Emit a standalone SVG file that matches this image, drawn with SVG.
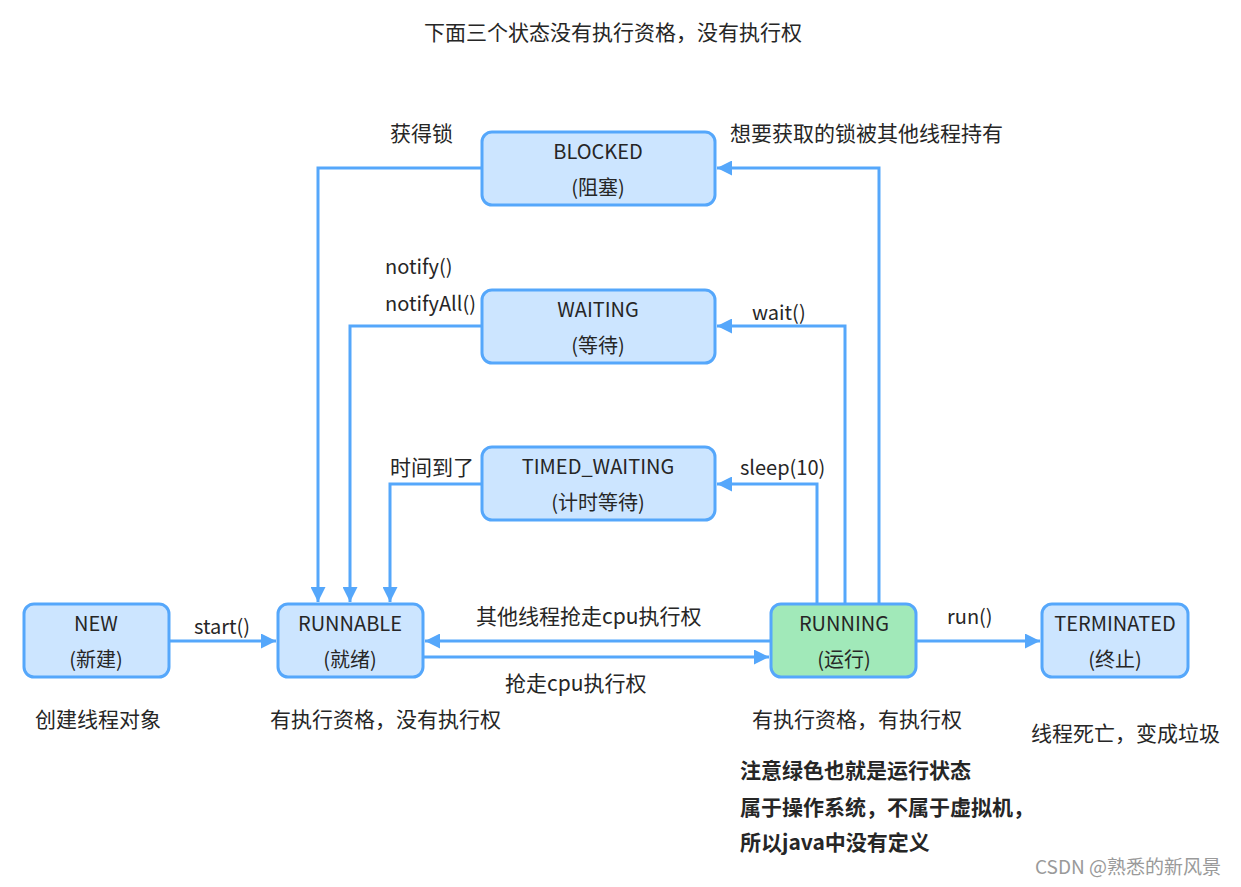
<svg xmlns="http://www.w3.org/2000/svg" width="1241" height="887" viewBox="0 0 1241 887">
<defs>
<style>
.box{fill:#cce5ff;stroke:#55a7fb;stroke-width:3}
.run{fill:#a1e9b9;stroke:#55a7fb;stroke-width:3}
.t{font-family:"Noto Sans CJK SC","Noto Sans",sans-serif;font-size:21px;fill:#262626}
.l{font-size:20px}
.c{text-anchor:middle}
.b{font-weight:bold}
.e{fill:none;stroke:#55a7fb;stroke-width:3}
</style>
<marker id="ah" viewBox="0 0 10 10" refX="10" refY="5" markerWidth="5" markerHeight="5" orient="auto" markerUnits="strokeWidth">
<path d="M0,0 L10,5 L0,10 z" fill="#55a7fb"/>
</marker>
</defs>
<rect width="1241" height="887" fill="#fff"/>
<text class="t c" x="613" y="40">下面三个状态没有执行资格，没有执行权</text>
<g id="connectors">
<path class="e" d="M482,168 H318 V602" marker-end="url(#ah)"/>
<path class="e" d="M879,604 V168 H717" marker-end="url(#ah)"/>
<path class="e" d="M482,326 H350 V602" marker-end="url(#ah)"/>
<path class="e" d="M845,604 V326 H717" marker-end="url(#ah)"/>
<path class="e" d="M482,484 H390 V602" marker-end="url(#ah)"/>
<path class="e" d="M817,604 V484 H717" marker-end="url(#ah)"/>
<path class="e" d="M169,641 H276" marker-end="url(#ah)"/>
<path class="e" d="M771,641 H425" marker-end="url(#ah)"/>
<path class="e" d="M423,657 H769" marker-end="url(#ah)"/>
<path class="e" d="M916,641 H1040" marker-end="url(#ah)"/>
<text class="t" x="390" y="141">获得锁</text>
<text class="t" x="730" y="141">想要获取的锁被其他线程持有</text>
<text class="t l" x="385" y="274">notify()</text>
<text class="t l" x="385" y="311">notifyAll()</text>
<text class="t l" x="752" y="320">wait()</text>
<text class="t" x="390" y="475">时间到了</text>
<text class="t l" x="740" y="475">sleep(10)</text>
<text class="t l" x="194" y="634">start()</text>
<text class="t" x="476" y="624">其他线程抢走cpu执行权</text>
<text class="t" x="505" y="691">抢走cpu执行权</text>
<text class="t l" x="947" y="624">run()</text>
</g>
<g id="blocked">
<rect class="box" x="482" y="132" width="233" height="73" rx="10"/>
<text class="t l c" x="598" y="159">BLOCKED</text>
<text class="t l c" x="598" y="195">(阻塞)</text>
</g>
<g id="waiting">
<rect class="box" x="482" y="290" width="233" height="73" rx="10"/>
<text class="t l c" x="598" y="317">WAITING</text>
<text class="t l c" x="598" y="353">(等待)</text>
</g>
<g id="timed_waiting">
<rect class="box" x="482" y="447" width="233" height="73" rx="10"/>
<text class="t l c" x="598" y="474">TIMED_WAITING</text>
<text class="t l c" x="598" y="510">(计时等待)</text>
</g>
<g id="new">
<rect class="box" x="24" y="604" width="145" height="73" rx="10"/>
<text class="t l c" x="96" y="631">NEW</text>
<text class="t l c" x="96" y="667">(新建)</text>
<text class="t" x="35" y="727">创建线程对象</text>
</g>
<g id="runnable">
<rect class="box" x="278" y="604" width="145" height="73" rx="10"/>
<text class="t l c" x="350" y="631">RUNNABLE</text>
<text class="t l c" x="350" y="667">(就绪)</text>
<text class="t" x="270" y="727">有执行资格，没有执行权</text>
</g>
<g id="running">
<rect class="run" x="771" y="604" width="145" height="73" rx="10"/>
<text class="t l c" x="844" y="631">RUNNING</text>
<text class="t l c" x="844" y="667">(运行)</text>
<text class="t" x="752" y="727">有执行资格，有执行权</text>
</g>
<g id="terminated">
<rect class="box" x="1042" y="604" width="146" height="73" rx="10"/>
<text class="t l c" x="1115" y="631">TERMINATED</text>
<text class="t l c" x="1115" y="667">(终止)</text>
<text class="t" x="1031" y="741">线程死亡，变成垃圾</text>
</g>
<g id="note">
<text class="t b" x="740" y="778">注意绿色也就是运行状态</text>
<text class="t b" x="740" y="815">属于操作系统，不属于虚拟机，</text>
<text class="t b" x="740" y="850">所以java中没有定义</text>
</g>
<text x="1035" y="874" style="font-family:'Noto Sans CJK SC',sans-serif;font-size:19px;fill:#9a9a9a">CSDN @熟悉的新风景</text>
</svg>
